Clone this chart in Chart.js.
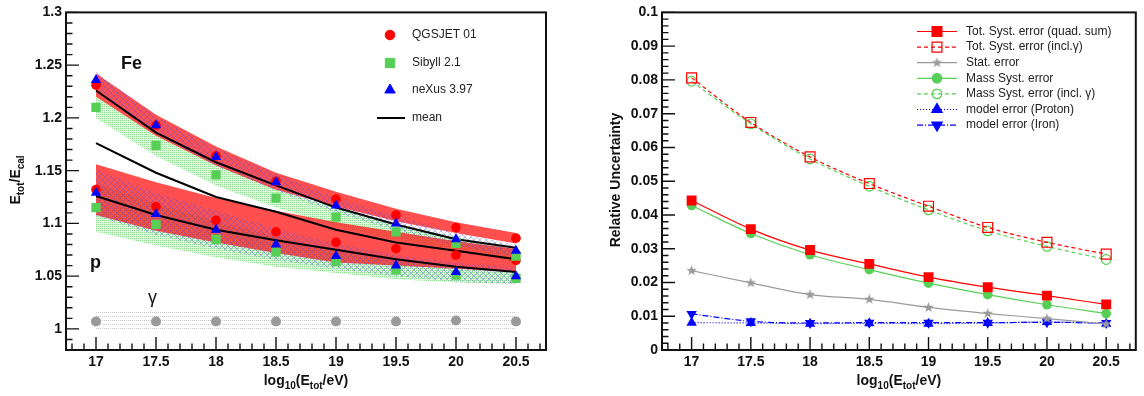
<!DOCTYPE html>
<html>
<head>
<meta charset="utf-8">
<script src="https://cdn.jsdelivr.net/npm/chart.js@4.4.1/dist/chart.umd.min.js"></script>
<style>
  html, body { margin: 0; padding: 0; background: #fff; }
  #wrap { position: relative; width: 1144px; height: 396px; }
  canvas { position: absolute; top: 0; }
  #left { left: 0; }
  #right { left: 572px; }
</style>
</head>
<body>
<div id="wrap">
  <canvas id="left" width="572" height="396"></canvas>
  <canvas id="right" width="572" height="396"></canvas>
</div>
<script>
// energies (log10 E/eV) and axis ticks
const energies = [17, 17.5, 18, 18.5, 19, 19.5, 20, 20.5];
const xTicks = [17, 17.5, 18, 18.5, 19, 19.5, 20, 20.5];
const yTicksLeft = [1, 1.05, 1.1, 1.15, 1.2, 1.25, 1.3];
const yTicksRight = [0, 0.01, 0.02, 0.03, 0.04, 0.05, 0.06, 0.07, 0.08, 0.09, 0.1];

// left panel: Etot/Ecal per model, iron and proton
const qgsFe  = [1.231, 1.193, 1.164, 1.140, 1.123, 1.108, 1.096, 1.086];
const sibFe  = [1.210, 1.174, 1.146, 1.124, 1.106, 1.092, 1.081, 1.069];
const nexFe  = [1.236, 1.193, 1.163, 1.139, 1.117, 1.100, 1.085, 1.074];
const meanFe = [1.226, 1.186, 1.158, 1.136, 1.115, 1.099, 1.085, 1.077];
const meanAll = [1.176, 1.148, 1.125, 1.111, 1.094, 1.082, 1.074, 1.066];
const qgsP  = [1.132, 1.116, 1.103, 1.092, 1.082, 1.076, 1.070, 1.065];
const sibP  = [1.115, 1.099, 1.085, 1.073, 1.064, 1.056, 1.051, 1.048];
const nexP  = [1.129, 1.109, 1.094, 1.080, 1.069, 1.060, 1.054, 1.050];
const meanP = [1.126, 1.108, 1.094, 1.084, 1.075, 1.066, 1.059, 1.054];
const gammaVals = [1.007, 1.007, 1.007, 1.007, 1.007, 1.007, 1.008, 1.007];

// half widths of the shaded bands
const qgsFeErr = [0.011, 0.010, 0.009, 0.008, 0.007, 0.006, 0.005, 0.005];
const sibFeErr = [0.010, 0.010, 0.010, 0.009, 0.008, 0.007, 0.006, 0.006];
const nexFeErr = [0.008, 0.008, 0.008, 0.008, 0.007, 0.007, 0.006, 0.006];
const qgsPErr  = [0.024, 0.023, 0.021, 0.020, 0.019, 0.016, 0.013, 0.011];
const sibPErr  = [0.023, 0.020, 0.017, 0.014, 0.011, 0.009, 0.007, 0.005];
const nexPErr  = [0.022, 0.020, 0.018, 0.015, 0.012, 0.010, 0.009, 0.008];
const gammaErr = [0.010, 0.010, 0.010, 0.010, 0.010, 0.010, 0.010, 0.010];

// right panel: relative uncertainties
const totSyst  = [0.0443, 0.0358, 0.0296, 0.0255, 0.0216, 0.0186, 0.0161, 0.0135];
const totIncl  = [0.0806, 0.0674, 0.0572, 0.0493, 0.0426, 0.0363, 0.0319, 0.0284];
const statErr  = [0.0235, 0.0199, 0.0164, 0.0150, 0.0126, 0.0108, 0.0093, 0.0077];
const massSyst = [0.0428, 0.0345, 0.0282, 0.0238, 0.0198, 0.0164, 0.0134, 0.0108];
const massIncl = [0.0796, 0.0670, 0.0566, 0.0485, 0.0415, 0.0353, 0.0307, 0.0268];
const modelP   = [0.0081, 0.0080, 0.0078, 0.0079, 0.0078, 0.0080, 0.0083, 0.0078];
const modelFe  = [0.0107, 0.0085, 0.0080, 0.0081, 0.0081, 0.0081, 0.0082, 0.0080];

const leftLegend = ['QGSJET 01', 'Sibyll 2.1', 'neXus 3.97', 'mean'];
const rightLegend = ['Tot. Syst. error (quad. sum)', 'Tot. Syst. error (incl.\u03b3)', 'Stat. error',
  'Mass Syst. error', 'Mass Syst. error (incl. \u03b3)', 'model error (Proton)', 'model error (Iron)'];

const FONT = "'Liberation Sans', Arial, Helvetica, sans-serif";
const RED = '#ff0000', GREEN = '#57cf57', BLUE = '#0000ff', GREY = '#9a9a9a';

const pts = arr => energies.map((x, i) => ({ x: x, y: arr[i] }));

function pattern(canvasId, size, draw) {
  const c = document.createElement('canvas');
  c.width = c.height = size;
  draw(c.getContext('2d'), size);
  return document.getElementById(canvasId).getContext('2d').createPattern(c, 'repeat');
}

// text with subscripts
function drawRich(ctx, parts, x, y, size, align) {
  const sub = Math.round(size * 0.72);
  const widths = parts.map(p => { ctx.font = 'bold ' + (p[1] ? sub : size) + 'px ' + FONT; return ctx.measureText(p[0]).width; });
  let cx = align === 'center' ? x - widths.reduce((a, b) => a + b, 0) / 2 : x;
  ctx.textAlign = 'left';
  ctx.textBaseline = 'alphabetic';
  parts.forEach((p, i) => {
    ctx.font = 'bold ' + (p[1] ? sub : size) + 'px ' + FONT;
    ctx.fillText(p[0], cx, p[1] ? y + size * 0.3 : y);
    cx += widths[i];
  });
}

function starImage(color, r) {
  const c = document.createElement('canvas');
  const s = Math.ceil(r * 2) + 2;
  c.width = c.height = s;
  const g = c.getContext('2d');
  g.fillStyle = color;
  g.beginPath();
  for (let i = 0; i < 10; i++) {
    const rr = i % 2 ? r * 0.42 : r;
    const a = -Math.PI / 2 + i * Math.PI / 5;
    g.lineTo(s / 2 + rr * Math.cos(a), s / 2 + rr * Math.sin(a));
  }
  g.closePath();
  g.fill();
  return c;
}
const greyStar = starImage(GREY, 5.5);

// marker for the hand drawn legends
function marker(ctx, ds, x, y) {
  const st = ds.pointStyle, r = ds.pointRadius;
  ctx.save();
  ctx.fillStyle = ds.pointBackgroundColor;
  ctx.strokeStyle = ds.pointBorderColor;
  ctx.lineWidth = ds.pointBorderWidth || 0;
  ctx.setLineDash([]);
  if (st instanceof HTMLCanvasElement) { ctx.drawImage(st, x - st.width / 2, y - st.height / 2); ctx.restore(); return; }
  ctx.beginPath();
  if (st === 'circle') ctx.arc(x, y, r, 0, Math.PI * 2);
  else if (st === 'rect') { const h = r * Math.SQRT1_2; ctx.rect(x - h, y - h, 2 * h, 2 * h); }
  else if (st === 'triangle') {
    const s = ds.pointRotation === 180 ? -1 : 1;
    for (let k = 0; k < 3; k++) { const a = k * 2 * Math.PI / 3; ctx.lineTo(x + Math.sin(a) * r, y - s * Math.cos(a) * r); }
    ctx.closePath();
  }
  ctx.fill();
  if (ctx.lineWidth > 0) ctx.stroke();
  ctx.restore();
}

// frame, inner ticks, axis titles
function framePlugin(cfg) {
  return {
    id: 'frame',
    afterDraw(chart) {
      const ctx = chart.ctx, a = chart.chartArea, xs = chart.scales.x, ys = chart.scales.y;
      ctx.save();
      ctx.strokeStyle = '#111';
      ctx.lineWidth = 1.4;
      ctx.beginPath();
      for (let i = 168; i <= 207; i++) {
        const px = xs.getPixelForValue(i / 10), len = i % 5 === 0 ? 13 : 6.5;
        ctx.moveTo(px, a.bottom); ctx.lineTo(px, a.bottom - len);
      }
      for (let i = cfg.yFrom; i <= cfg.yTo; i++) {
        const py = ys.getPixelForValue(i * cfg.yStep), len = i % 5 === 0 ? 13 : 6.5;
        ctx.moveTo(a.left, py); ctx.lineTo(a.left + len, py);
      }
      ctx.stroke();
      ctx.lineWidth = 2;
      ctx.strokeRect(a.left, a.top, a.right - a.left, a.bottom - a.top);
      ctx.fillStyle = '#111';
      drawRich(ctx, [['log', 0], ['10', 1], ['(E', 0], ['tot', 1], ['/eV)', 0]], (a.left + a.right) / 2, 385, 14, 'center');
      ctx.translate(cfg.yTitleX, 180);
      ctx.rotate(-Math.PI / 2);
      drawRich(ctx, cfg.yTitle, 0, 0, 14, 'center');
      ctx.restore();
      cfg.extra(chart);
    }
  };
}

function scalesFor(yMin, yMax, yTicks, yWidth, fmt) {
  const tickFont = { family: FONT, size: 14, weight: 'bold' };
  return {
    x: {
      type: 'linear', min: 16.75, max: 20.75,
      afterBuildTicks: s => { s.ticks = xTicks.map(v => ({ value: v })); },
      afterFit: s => { s.height = 46; },
      grid: { display: false, drawTicks: false }, border: { display: false },
      ticks: { font: tickFont, color: '#111', padding: 4, maxRotation: 0, autoSkip: false, callback: v => String(v) }
    },
    y: {
      type: 'linear', min: yMin, max: yMax,
      afterBuildTicks: s => { s.ticks = yTicks.map(v => ({ value: v })); },
      afterFit: s => { s.width = yWidth; },
      grid: { display: false, drawTicks: false }, border: { display: false },
      ticks: { font: tickFont, color: '#111', padding: 4, autoSkip: false, callback: fmt }
    }
  };
}

// ---------- left panel ----------
const redFill = 'rgba(255,30,30,0.78)';
const greenFill = pattern('left', 2, (g) => {
  g.fillStyle = 'rgba(185,238,185,0.45)'; g.fillRect(0, 0, 2, 2);
  g.fillStyle = 'rgba(115,212,115,0.75)'; g.fillRect(0, 0, 1, 1);
});
const blueFill = pattern('left', 6, (g) => {
  g.fillStyle = 'rgba(80,80,235,0.38)';
  for (let i = 0; i < 6; i++) { g.fillRect(i, i, 1, 1); g.fillRect(5 - i, i, 1, 1); }
});
const greyFill = pattern('left', 4, (g) => {
  g.fillStyle = 'rgba(175,175,175,0.7)';
  g.fillRect(0, 0, 1, 1); g.fillRect(2, 0, 1, 1);
});

function band(vals, errs, fill, order) {
  return [
    { data: energies.map((x, i) => ({ x: x, y: vals[i] + errs[i] })), fill: '+1', backgroundColor: fill, borderWidth: 0, pointRadius: 0, order: order },
    { data: energies.map((x, i) => ({ x: x, y: vals[i] - errs[i] })), fill: false, borderWidth: 0, pointRadius: 0, order: order }
  ];
}
function markers(vals, style, color, r, order) {
  return { data: pts(vals), showLine: false, pointStyle: style, pointRadius: r, pointBackgroundColor: color,
    pointBorderColor: color, pointBorderWidth: 0, order: order };
}
function meanLine(vals) {
  return { data: pts(vals), borderColor: '#000', borderWidth: 2, pointRadius: 0, fill: false, tension: 0, order: 5 };
}

const leftMarkers = [markers(qgsFe, 'circle', RED, 4.8, 3), markers(sibFe, 'rect', GREEN, 6.6, 2), markers(nexFe, 'triangle', BLUE, 6, 1)];

const leftData = [].concat(
  band(gammaVals, gammaErr, greyFill, 20),
  band(sibFe, sibFeErr, greenFill, 19), band(sibP, sibPErr, greenFill, 19),
  band(qgsFe, qgsFeErr, redFill, 18), band(qgsP, qgsPErr, redFill, 18),
  band(nexFe, nexFeErr, blueFill, 17), band(nexP, nexPErr, blueFill, 17),
  [meanLine(meanFe), meanLine(meanAll), meanLine(meanP)],
  [markers(gammaVals, 'circle', GREY, 5, 4)],
  leftMarkers,
  [markers(qgsP, 'circle', RED, 4.8, 3), markers(sibP, 'rect', GREEN, 6.6, 2), markers(nexP, 'triangle', BLUE, 6, 1)]
);

new Chart(document.getElementById('left'), {
  type: 'line',
  data: { datasets: leftData },
  options: {
    responsive: false, animation: false, devicePixelRatio: 1, events: [],
    layout: { padding: { top: 10, right: 26, left: 0, bottom: 0 } },
    plugins: { legend: { display: false }, tooltip: { enabled: false } },
    scales: scalesFor(0.98, 1.3, yTicksLeft, 66, v => String(+v.toFixed(2)))
  },
  plugins: [framePlugin({
    yFrom: 98, yTo: 130, yStep: 0.01, yTitleX: 20,
    yTitle: [['E', 0], ['tot', 1], ['/E', 0], ['cal', 1]],
    extra(chart) {
      const ctx = chart.ctx;
      ctx.save();
      ctx.fillStyle = '#111';
      ctx.textAlign = 'left';
      ctx.textBaseline = 'alphabetic';
      ctx.font = 'bold 18px ' + FONT;
      ctx.fillText('Fe', 121, 69);
      ctx.fillText('p', 90, 268);
      ctx.font = '18px ' + FONT;
      ctx.fillText('\u03b3', 148, 303);
      // legend
      const rows = [35, 63, 90, 118];
      ctx.font = '12px ' + FONT;
      ctx.textBaseline = 'middle';
      ctx.fillStyle = '#222';
      leftLegend.forEach((t, i) => {
        if (i < 3) marker(ctx, leftMarkers[i], 390, rows[i]);
        else { ctx.strokeStyle = '#000'; ctx.lineWidth = 2; ctx.beginPath(); ctx.moveTo(377, rows[i]); ctx.lineTo(405, rows[i]); ctx.stroke(); }
        ctx.fillText(t, 412, rows[i]);
      });
      ctx.restore();
    }
  })]
});

// ---------- right panel ----------
function errLine(vals, color, dash, style, r, filled, rot) {
  return {
    data: pts(vals), borderColor: color, borderWidth: 1.2, borderDash: dash, fill: false,
    cubicInterpolationMode: 'monotone',
    pointStyle: style, pointRadius: r, pointRotation: rot || 0,
    pointBackgroundColor: filled ? color : 'rgba(0,0,0,0)', pointBorderColor: color, pointBorderWidth: filled ? 0 : 1.2
  };
}

const rightData = [
  errLine(totSyst, RED, [], 'rect', 7, true),
  errLine(totIncl, RED, [4, 3], 'rect', 7, false),
  errLine(statErr, GREY, [], greyStar, 5, true),
  errLine(massSyst, GREEN, [], 'circle', 4.8, true),
  errLine(massIncl, GREEN, [4, 3], 'circle', 4.8, false),
  errLine(modelP, BLUE, [1, 2], 'triangle', 6, true),
  errLine(modelFe, BLUE, [6, 2, 1, 2], 'triangle', 6, true, 180)
];

new Chart(document.getElementById('right'), {
  type: 'line',
  data: { datasets: rightData },
  options: {
    responsive: false, animation: false, devicePixelRatio: 1, events: [],
    layout: { padding: { top: 10, right: 2, left: 0, bottom: 0 } },
    plugins: { legend: { display: false }, tooltip: { enabled: false } },
    scales: scalesFor(0, 0.1, yTicksRight, 90, v => String(+v.toFixed(2)))
  },
  plugins: [framePlugin({
    yFrom: 0, yTo: 50, yStep: 0.002, yTitleX: 48,
    yTitle: [['Relative Uncertainty', 0]],
    extra(chart) {
      const ctx = chart.ctx;
      ctx.save();
      ctx.font = '12px ' + FONT;
      ctx.textAlign = 'left';
      ctx.textBaseline = 'middle';
      rightLegend.forEach((t, i) => {
        const y = 31.5 + i * 15.6, ds = rightData[i];
        ctx.strokeStyle = ds.borderColor;
        ctx.lineWidth = 1.2;
        ctx.setLineDash(ds.borderDash);
        ctx.beginPath(); ctx.moveTo(345, y); ctx.lineTo(385, y); ctx.stroke();
        marker(ctx, ds, 365, y);
        ctx.fillStyle = '#222';
        ctx.fillText(t, 394, y);
      });
      ctx.restore();
    }
  })]
});
</script>
</body>
</html>
